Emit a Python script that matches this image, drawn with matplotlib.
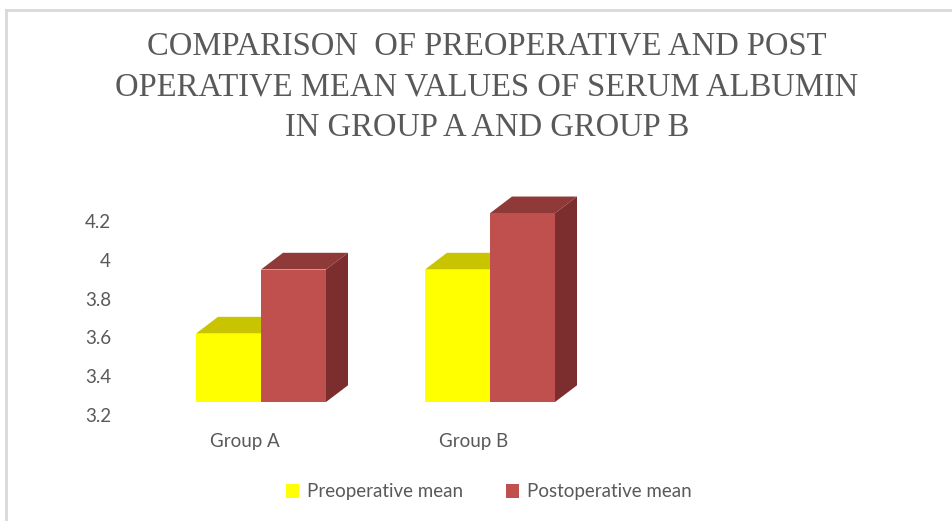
import matplotlib.pyplot as plt
from matplotlib.patches import Polygon, Rectangle
from matplotlib.lines import Line2D

groups = ['Group A', 'Group B']
series = ['Preoperative mean', 'Postoperative mean']
preop = [3.62, 3.95]
postop = [3.95, 4.24]
yticks = [3.2, 3.4, 3.6, 3.8, 4.0, 4.2]
ytick_labels = ['3.2', '3.4', '3.6', '3.8', '4', '4.2']

front = ['#FFFF00', '#C0504D']
top = ['#C8C400', '#8F3A38']
side = ['#A8A400', '#7B2E2D']
gray = '#595959'

W, H = 952, 521
fig = plt.figure(figsize=(W / 100, H / 100), dpi=100)

# pixel layout of the plot (from the reference)
px_left, px_right, px_top, px_bot = 125, 940, 180, 432
x0_px, x_step = 261, 229          # category centre, px per category
y0_px, y_step = 415, 194          # pixel of 3.2, px per unit
ax = fig.add_axes([px_left / W, 1 - px_bot / H,
                   (px_right - px_left) / W, (px_bot - px_top) / H])
ax.set_xlim((px_left - x0_px) / x_step, (px_right - x0_px) / x_step)
ax.set_ylim(3.2 - (px_bot - y0_px) / y_step, 3.2 + (y0_px - px_top) / y_step)

bw = 65 / x_step
ddx, ddy = 22 / x_step, 16.7 / y_step
base = 3.2 + 13 / y_step

for i in range(len(groups)):
    for j, vals in enumerate([preop, postop]):
        v = vals[i]
        x0 = i + (j - 1) * bw
        x1 = x0 + bw
        ax.add_patch(Polygon([(x0, v), (x0 + ddx, v + ddy), (x1 + ddx, v + ddy), (x1, v)],
                             closed=True, fc=top[j], ec='none', zorder=2 + j))
        ax.add_patch(Polygon([(x1, base), (x1, v), (x1 + ddx, v + ddy), (x1 + ddx, base + ddy)],
                             closed=True, fc=side[j], ec='none', zorder=2 + j))
        ax.add_patch(Rectangle((x0, base), bw, v - base, fc=front[j], ec='none', zorder=2 + j))

ax.set_yticks(yticks)
ax.set_yticklabels(ytick_labels)
ax.set_xticks([i - 16 / x_step for i in range(len(groups))])
ax.set_xticklabels(groups)
ax.tick_params(length=0, labelsize=13.5, labelcolor=gray, pad=10)
ax.tick_params(axis='x', pad=1)
for lab in ax.get_xticklabels() + ax.get_yticklabels():
    lab.set_family('Lato')
for s in ax.spines.values():
    s.set_visible(False)

fig.text(487 / W, 1 - 87 / H,
         'COMPARISON  OF PREOPERATIVE AND POST\nOPERATIVE MEAN VALUES OF SERUM ALBUMIN\nIN GROUP A AND GROUP B',
         ha='center', va='center', family='Liberation Serif', fontsize=23.5, color=gray,
         linespacing=1.42)

handles = [Rectangle((0, 0), 1, 1, fc=c, ec='none') for c in front]
fig.legend(handles, series, loc='center', bbox_to_anchor=(489 / W, 1 - 492 / H), ncol=2,
           frameon=False, prop={'family': 'Lato', 'size': 13.5}, labelcolor=gray,
           handlelength=0.7, handleheight=0.7, handletextpad=0.4, columnspacing=2.3)

fig.add_artist(Line2D([6 / W, 6 / W], [0, 1 - 10 / H], color='#D9D9D9', lw=2))
fig.add_artist(Line2D([6 / W, 1], [1 - 10 / H, 1 - 10 / H], color='#D9D9D9', lw=2))

fig.savefig('out.png', dpi=100)
